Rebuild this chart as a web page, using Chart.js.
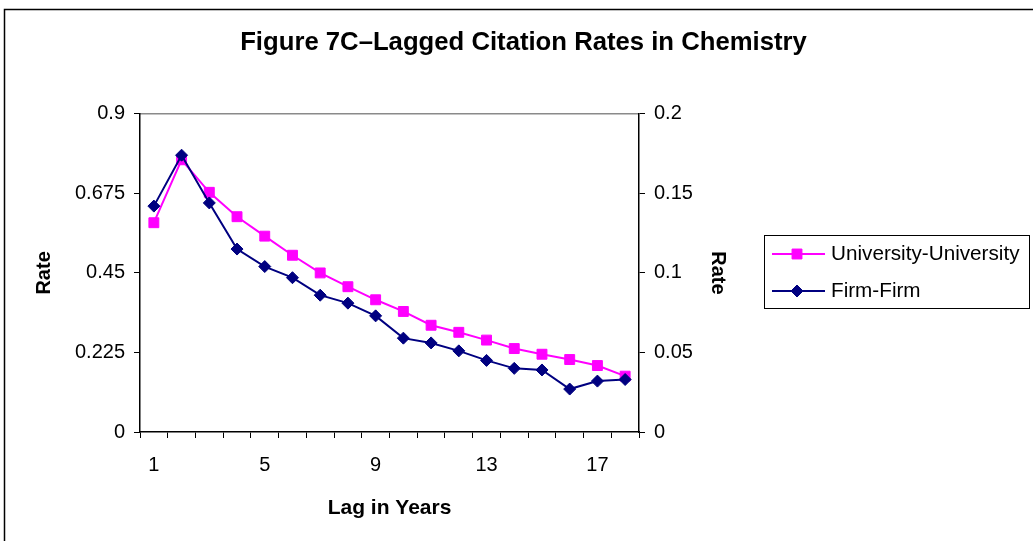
<!DOCTYPE html>
<html>
<head>
<meta charset="utf-8">
<script src="https://cdn.jsdelivr.net/npm/chart.js@4.4.0/dist/chart.umd.min.js"></script>
<style>
  html, body { margin: 0; padding: 0; background: #fff; }
</style>
</head>
<body>
<canvas id="chart" width="1033" height="541"></canvas>
<script>
const lags = [1, 2, 3, 4, 5, 6, 7, 8, 9, 10, 11, 12, 13, 14, 15, 16, 17, 18];
const shownLags = [1, 5, 9, 13, 17];
// left axis
const uniUni = [0.592, 0.770, 0.678, 0.609, 0.554, 0.500, 0.450, 0.411, 0.374, 0.341, 0.302, 0.282, 0.260, 0.236, 0.220, 0.205, 0.188, 0.158];
// right axis
const firmFirm = [0.142, 0.174, 0.144, 0.115, 0.104, 0.097, 0.086, 0.081, 0.073, 0.059, 0.056, 0.051, 0.045, 0.040, 0.039, 0.027, 0.032, 0.033];
const leftTicks = [0, 0.225, 0.45, 0.675, 0.9];
const rightTicks = [0, 0.05, 0.1, 0.15, 0.2];

Chart.defaults.font.family = '"Liberation Sans", Arial, sans-serif';
Chart.defaults.color = '#000';

// outer frame + grey top edge of the plot area
const framePlugin = {
  id: 'frame',
  beforeDraw(chart) {
    const { ctx, width, height, chartArea: a } = chart;
    ctx.save();
    ctx.fillStyle = '#fff';
    ctx.fillRect(0, 0, width, height);
    ctx.strokeStyle = '#000';
    ctx.lineWidth = 1.5;
    ctx.beginPath();
    ctx.moveTo(4.5, height);
    ctx.lineTo(4.5, 9.5);
    ctx.lineTo(width, 9.5);
    ctx.stroke();
    ctx.strokeStyle = '#8a8a8a';
    ctx.lineWidth = 1.5;
    ctx.beginPath();
    ctx.moveTo(a.left, a.top);
    ctx.lineTo(a.right, a.top);
    ctx.stroke();
    ctx.restore();
  },
};

// excel-like legend: line with marker, boxed
const boxLegend = {
  id: 'boxLegend',
  afterDraw(chart, args, opts) {
    const { ctx } = chart;
    const { left, top, width, height, rows } = opts;
    ctx.save();
    ctx.strokeStyle = '#000';
    ctx.lineWidth = 1;
    ctx.strokeRect(left + 0.5, top + 0.5, width, height);
    chart.data.datasets.forEach((ds, i) => {
      const y = rows[i];
      ctx.strokeStyle = ds.borderColor;
      ctx.lineWidth = 2;
      ctx.beginPath();
      ctx.moveTo(left + 8, y);
      ctx.lineTo(left + 61, y);
      ctx.stroke();
      ctx.fillStyle = ds.backgroundColor;
      ctx.lineWidth = 1;
      Chart.helpers.drawPoint(ctx, { pointStyle: ds.pointStyle, radius: ds.pointRadius, rotation: 0, borderWidth: 1 }, left + 33, y);
      ctx.fillStyle = '#000';
      ctx.font = '20.7px "Liberation Sans", Arial, sans-serif';
      ctx.textBaseline = 'middle';
      ctx.fillText(ds.label, left + 67, y);
    });
    ctx.restore();
  },
};

const axisGrid = { drawOnChartArea: false, tickLength: 6, color: '#000' };

new Chart(document.getElementById('chart'), {
  type: 'line',
  data: {
    labels: lags,
    datasets: [
      {
        label: 'University-University',
        data: uniUni,
        yAxisID: 'y',
        borderColor: '#ff00ff',
        backgroundColor: '#ff00ff',
        borderWidth: 2,
        pointStyle: 'rect',
        pointRadius: 7,
        pointBorderWidth: 1,
        tension: 0,
        order: 1,
      },
      {
        label: 'Firm-Firm',
        data: firmFirm,
        yAxisID: 'y1',
        borderColor: '#000080',
        backgroundColor: '#000080',
        borderWidth: 2,
        pointStyle: 'rectRot',
        pointRadius: 6,
        pointBorderWidth: 1,
        tension: 0,
        order: 0,
      },
    ],
  },
  options: {
    responsive: false,
    animation: false,
    layout: { padding: { left: 14, right: 0, top: 0, bottom: 0 } },
    plugins: {
      legend: { display: false },
      tooltip: { enabled: false },
      title: {
        display: true,
        text: 'Figure 7C\u2013Lagged Citation Rates in Chemistry',
        font: { size: 25.7, weight: 'bold' },
        color: '#000',
        padding: { top: 27, bottom: 56 },
      },
      boxLegend: { left: 764, top: 235, width: 265, height: 73, rows: [254, 291] },
    },
    scales: {
      x: {
        type: 'category',
        offset: true,
        grid: { ...axisGrid, offset: true },
        border: { color: '#000', width: 1.5 },
        ticks: {
          autoSkip: false,
          maxRotation: 0,
          padding: 15,
          font: { size: 20 },
          callback(value, index) {
            const lag = lags[index];
            return shownLags.includes(lag) ? String(lag) : '';
          },
        },
        title: { display: true, text: 'Lag in Years', font: { size: 21, weight: 'bold' }, padding: { top: 0, bottom: 20 } },
        afterFit(scale) { scale.height = 109; },
      },
      y: {
        position: 'left',
        min: 0,
        max: 0.9,
        afterBuildTicks(scale) { scale.ticks = leftTicks.map((v) => ({ value: v })); },
        ticks: { padding: 9, font: { size: 20 }, callback: (v) => String(v) },
        grid: axisGrid,
        border: { color: '#000', width: 1.5 },
        title: { display: true, text: 'Rate', font: { size: 20, weight: 'bold' }, padding: { top: 18.5 } },
        afterFit(scale) { scale.width = 126; },
      },
      y1: {
        position: 'right',
        min: 0,
        max: 0.2,
        afterBuildTicks(scale) { scale.ticks = rightTicks.map((v) => ({ value: v })); },
        ticks: { padding: 9, font: { size: 20 }, callback: (v) => String(v) },
        grid: axisGrid,
        border: { color: '#000', width: 1.5 },
        title: { display: true, text: 'Rate', font: { size: 20, weight: 'bold' }, padding: { top: 303 } },
        afterFit(scale) { scale.width = 394; },
      },
    },
  },
  plugins: [framePlugin, boxLegend],
});
</script>
</body>
</html>
